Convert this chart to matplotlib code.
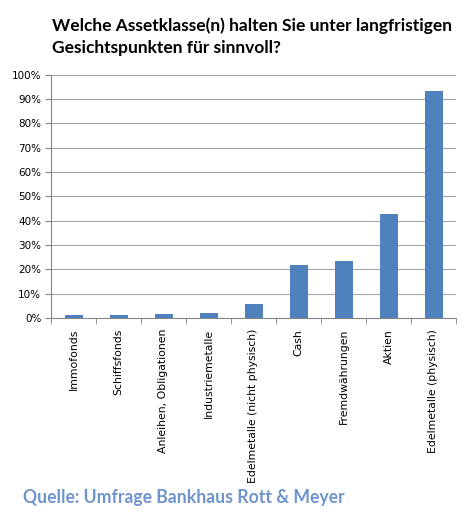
import matplotlib.pyplot as plt
import numpy as np
from matplotlib.ticker import PercentFormatter

categories = ["Immofonds", "Schiffsfonds", "Anleihen, Obligationen", "Industriemetalle",
              "Edelmetalle (nicht physisch)", "Cash", "Fremdwährungen", "Aktien",
              "Edelmetalle (physisch)"]
values = [1.2, 1.2, 1.6, 2.1, 5.7, 21.8, 23.4, 42.7, 93.2]

title = "Welche Assetklasse(n) halten Sie unter langfristigen\nGesichtspunkten für sinnvoll?"
source = "Quelle: Umfrage Bankhaus Rott & Meyer"

W, H = 475, 523
fig = plt.figure(figsize=(W / 100, H / 100), dpi=100)
ax = fig.add_axes([51 / W, 1 - 318 / H, 405 / W, 243.5 / H])

x = np.arange(len(categories))
ax.bar(x, values, width=0.4, color="#4f81bd", zorder=3)

ax.set_xlim(-0.5, len(categories) - 0.5)
ax.set_ylim(0, 100)
ax.set_yticks(np.arange(0, 101, 10))
ax.yaxis.set_major_formatter(PercentFormatter(decimals=0))
ax.grid(axis="y", color="#a6a6a6", linewidth=0.8, zorder=0)

ax.set_xticks(x)
ax.set_xticklabels(categories, rotation=90, va="top", ha="center")
ax.set_xticks(np.arange(-0.5, len(categories)), minor=True)
ax.tick_params(axis="x", which="major", length=0, pad=8, labelsize=7.8)
ax.tick_params(axis="x", which="minor", length=4, color="#868686")
ax.tick_params(axis="y", length=4, color="#868686", labelsize=7.5, pad=3)

for s in ["top", "right"]:
    ax.spines[s].set_visible(False)
for s in ["left", "bottom"]:
    ax.spines[s].set_color("#868686")

fig.text(52 / W, 1 - 17 / H, title, fontsize=12.5, fontweight="bold", family="Lato",
         va="top", ha="left", linespacing=1.5)
fig.text(23 / W, 1 - 497 / H, source, fontsize=12.7, fontweight="bold", family="Lato",
         color="#6f95cc", va="center", ha="left")

fig.savefig("out.png", dpi=100)
